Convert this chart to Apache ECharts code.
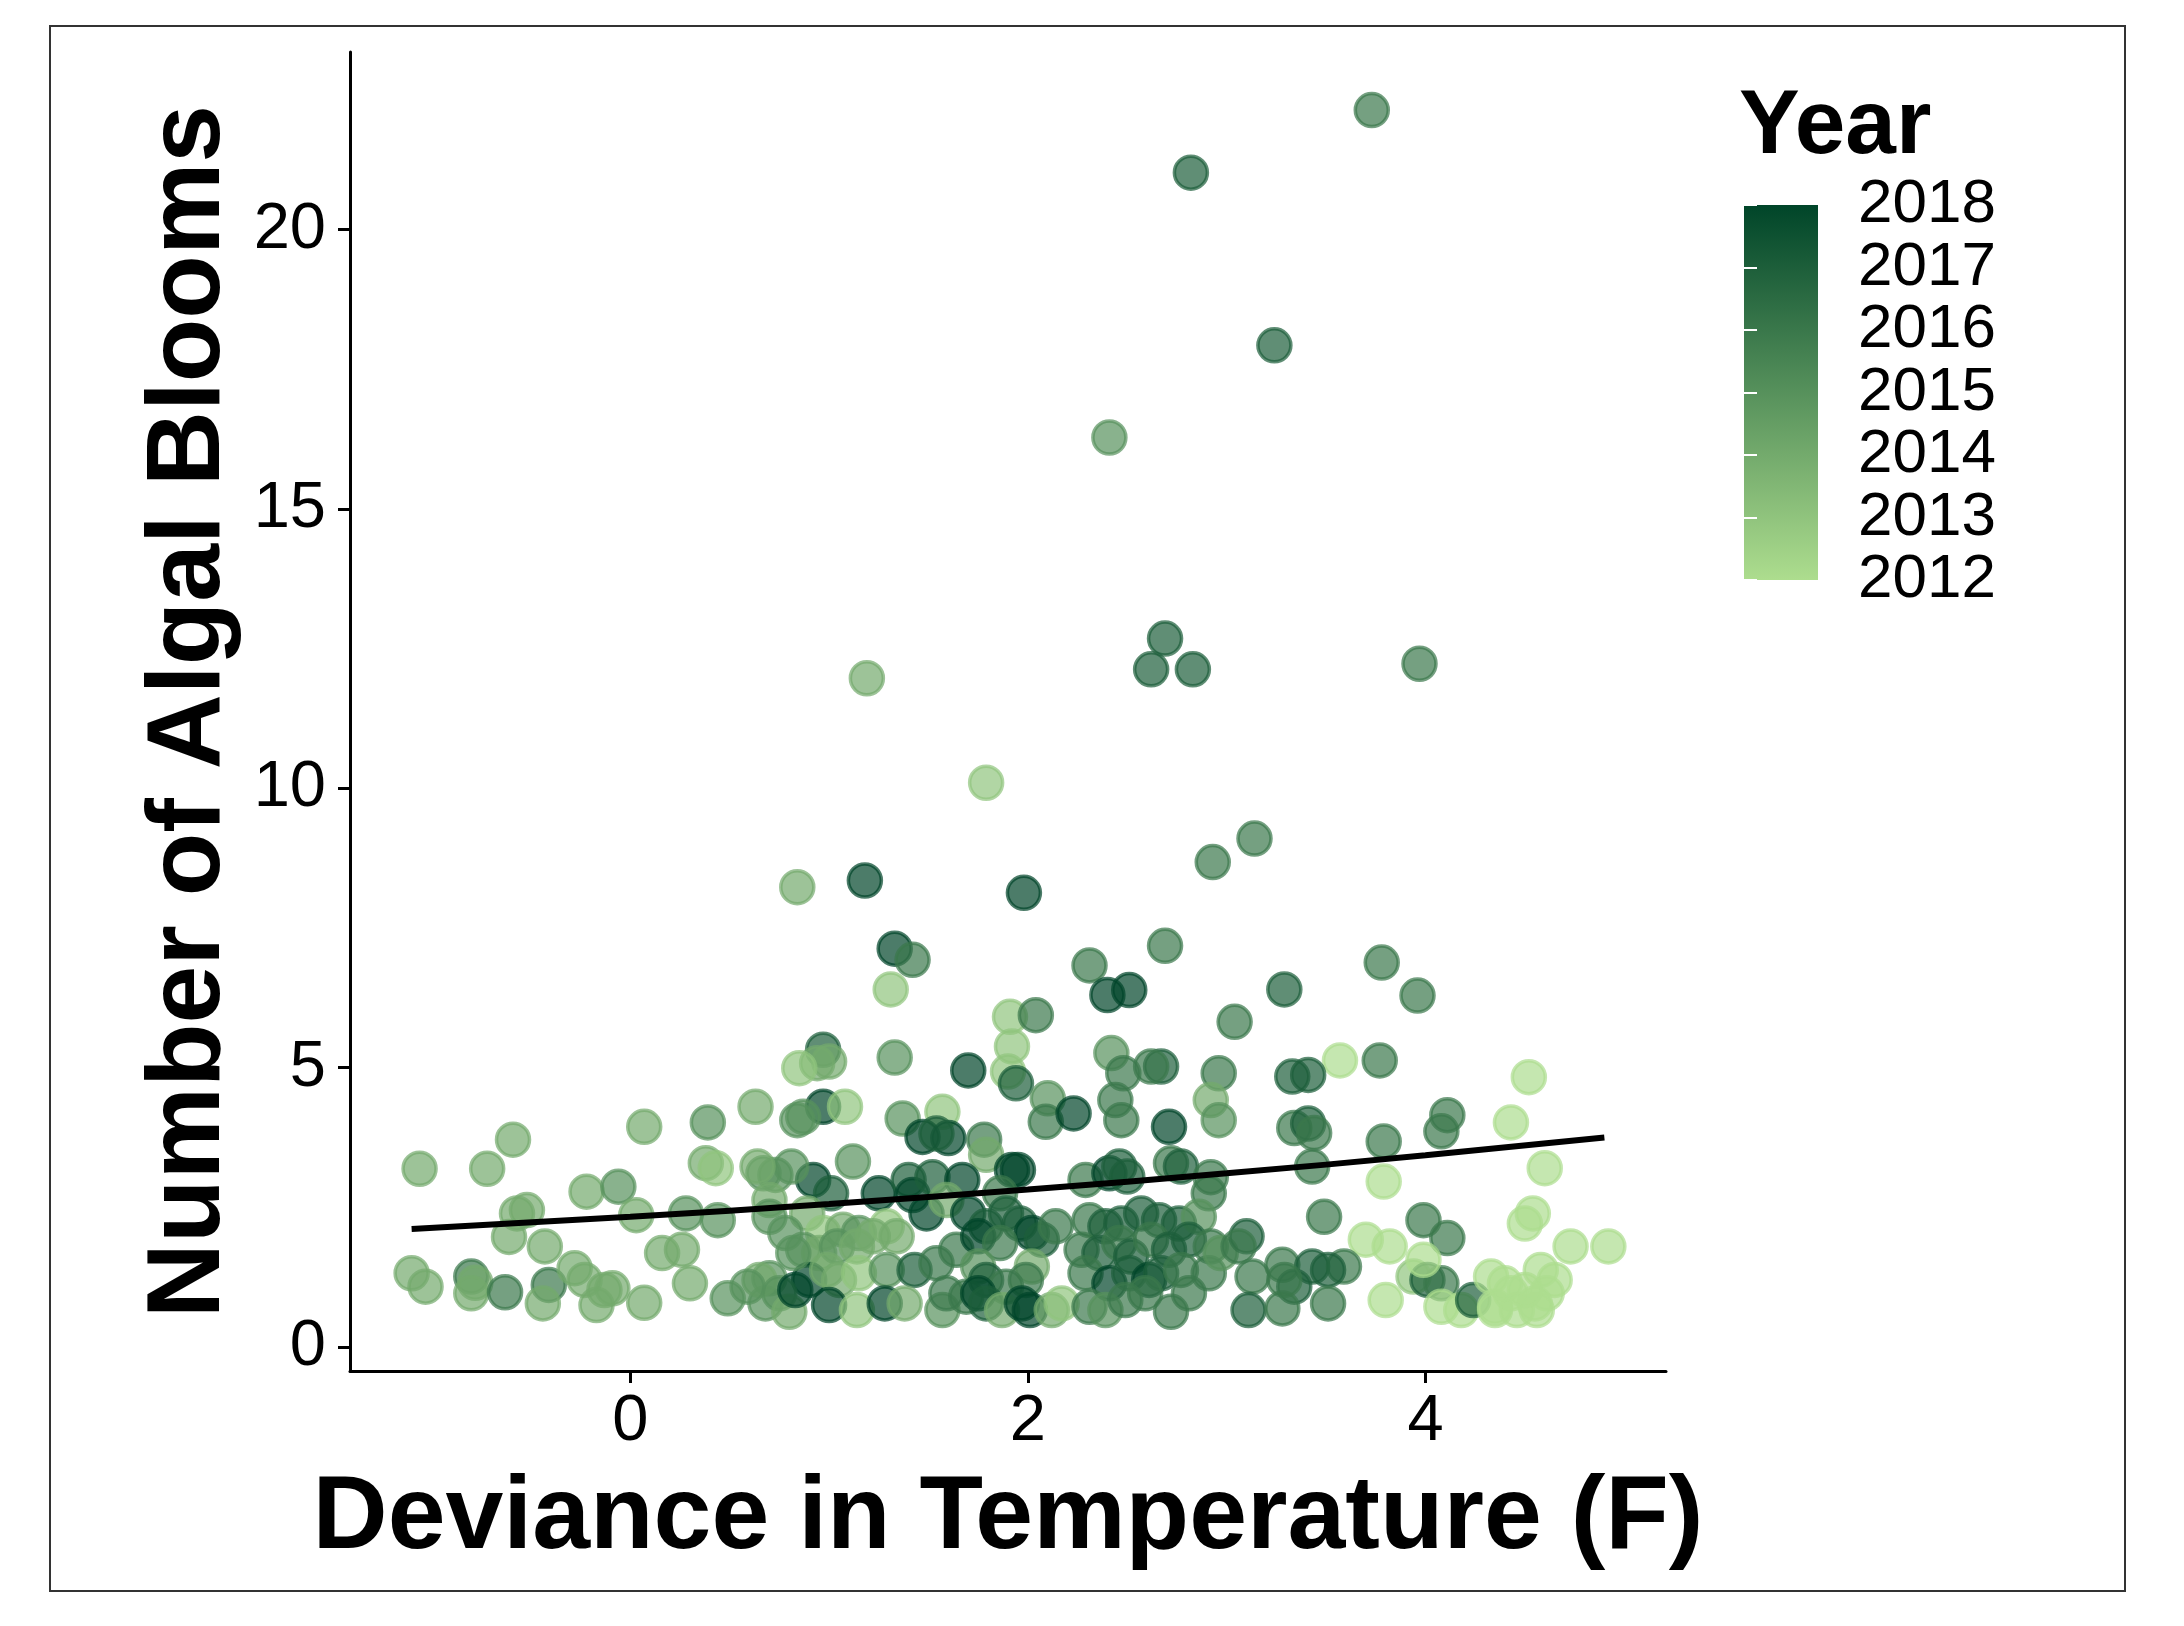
<!DOCTYPE html>
<html>
<head>
<meta charset="UTF-8">
<title>Algal blooms vs temperature deviance</title>
<script src="https://cdn.jsdelivr.net/npm/echarts@6/dist/echarts.min.js"></script>
<style>
  html, body { margin: 0; padding: 0; background: #fff; }
  #chart { width: 2184px; height: 1626px; }
</style>
</head>
<body>
<div id="chart"></div>
<script>
// points: x = deviance in temperature (F), y = number of algal blooms
var tempDev = [
  // high values
  3.73, 2.82, 3.24, 2.41, 1.19, 2.69, 2.62, 2.83, 3.97, 1.79, 0.84, 1.18, 1.98, 3.14, 2.93, 1.33, 1.42, 2.69, 2.31, 3.78, 3.29, 3.96,
  // middle band, x 0.8 - 3.0
  1.31, 2.40, 2.51, 1.91, 2.04, 1.92, 1.90, 1.94, 1.70, 1.33, 0.97, 0.94, 1.00, 0.97, 1.08, 0.87, 2.10, 2.09, 2.23, 2.42,
  2.67, 2.62, 2.48, 2.44, 2.47, 2.71, 2.96, 2.92, 2.96, 3.04, 1.37, 1.57, 1.47, 1.60, 1.54, 1.78, 1.79, 1.92, 1.95, 1.12,
  0.92, 1.01, 1.25, 1.40, 1.42, 1.52, 1.67, 1.49, 1.59, 1.86, 2.29, 2.41, 2.46, 2.50, 2.72, 2.77, 2.92, 2.91,
  // lower band, x 0.8 - 3.0
  0.89, 0.97, 1.07, 1.15, 1.29, 1.34, 1.22, 0.87, 0.95, 1.04, 1.14, 0.90, 0.99, 1.05, 1.15, 1.29, 1.43, 1.54, 1.00, 1.14,
  1.28, 1.38, 1.57, 1.59, 1.70, 1.79, 1.89, 1.96, 2.02, 2.07, 2.14, 1.64, 1.75, 1.86, 1.75, 2.02, 1.79, 1.89, 1.99, 1.69,
  1.75, 1.79, 1.87, 1.97, 2.01, 2.12, 2.17, 2.31, 2.39, 2.47, 2.57, 2.66, 2.76, 2.86, 2.27, 2.36, 2.46, 2.52, 2.62, 2.71,
  2.81, 2.92, 2.29, 2.41, 2.51, 2.61, 2.67, 2.77, 2.91, 2.97, 2.31, 2.39, 2.49, 2.59, 2.72, 2.81,
  // left part, x < 0.85
  -1.06, -0.72, -0.59, 0.07, 0.39, 0.63, 0.84, 0.85, 0.38, 0.43, -0.22, -0.06, 0.03, -0.57, -0.52, -0.61, -0.43, 0.28, 0.44, 0.16,
  0.26, 0.30, 0.07, -1.10, -1.03, -0.80, -0.78, -0.80, -0.63, -0.41, -0.44, -0.28, -0.23, -0.13, -0.09, -0.17, 0.49, 0.70, 0.68, 0.67,
  0.73, 0.81, 0.64, 0.70, 0.70, 0.78, 0.65, 0.75, 0.80, 0.83, 0.82, 0.59,
  // right part, x > 3.0
  3.57, 3.77, 3.33, 3.41, 4.52, 4.11, 4.08, 4.43, 3.34, 3.41, 3.44, 3.79, 3.43, 4.60, 3.79, 3.49, 3.99, 4.11, 3.70, 3.82,
  4.50, 4.54, 4.73, 4.92, 3.10, 3.06, 3.28, 3.43, 3.59, 3.51, 3.13, 3.34, 3.29, 3.11, 3.28, 3.51, 3.80, 3.94, 4.01, 4.08,
  3.99, 4.08, 4.18, 4.24, 4.33, 4.35, 4.35, 4.43, 4.46, 4.55, 4.58, 4.61, 4.56, 4.65, 4.50, 4.40
];
var blooms = [
  22.14, 21.02, 17.93, 16.28, 11.97, 12.68, 12.13, 12.13, 12.23, 10.10, 8.23, 8.35, 8.13, 9.10, 8.68, 7.13, 6.93, 7.18, 6.83, 6.88, 6.40, 6.29,
  6.40, 6.30, 6.39, 5.91, 5.94, 5.38, 4.93, 4.72, 4.95, 5.18, 5.32, 5.08, 5.11, 4.30, 4.30, 4.12, 4.45, 4.03, 4.18, 5.26,
  5.02, 5.02, 4.90, 4.42, 4.06, 3.94, 4.90, 4.42, 4.06, 5.82, 4.09, 4.21, 3.76, 3.74, 3.82, 3.71, 3.44, 3.17, 3.17, 3.32,
  2.99, 2.75, 2.75, 2.99, 2.72, 3.04, 2.99, 2.39, 2.63, 2.75, 2.99, 3.11, 3.23, 3.05, 3.29, 3.23, 3.04, 2.75,
  2.39, 2.04, 2.10, 2.04, 2.16, 1.98, 1.98, 1.74, 1.68, 1.80, 1.80, 1.20, 1.38, 1.20, 1.32, 1.38, 1.38, 1.50, 0.75, 0.66,
  0.78, 0.78, 0.66, 0.96, 2.39, 2.16, 2.39, 2.21, 2.04, 1.92, 2.16, 1.74, 1.98, 1.86, 1.44, 1.44, 1.20, 1.08, 1.20, 0.90,
  0.96, 0.78, 0.66, 0.78, 0.66, 0.66, 0.78, 2.27, 2.16, 2.21, 2.39, 2.27, 2.21, 2.33, 1.74, 1.68, 1.86, 1.62, 1.92, 1.74,
  1.92, 1.80, 1.32, 1.14, 1.32, 1.20, 1.32, 1.38, 1.32, 1.68, 0.72, 0.66, 0.84, 0.96, 0.63, 0.96,
  3.19, 3.19, 3.71, 3.94, 4.02, 4.30, 4.06, 4.99, 3.29, 3.20, 2.78, 2.87, 2.36, 2.39, 2.45, 1.97, 1.80, 2.39, 2.27, 1.68,
  1.74, 1.14, 0.79, 1.32, 1.08, 1.26, 1.15, 0.96, 0.98, 1.11, 0.78, 1.41, 1.20, 1.02, 1.05, 0.75, 0.87, 1.23, 0.78, 3.11,
  3.08, 3.23, 3.23, 2.63, 2.33, 2.04, 1.20, 0.96, 0.63, 1.02, 1.68, 1.08,
  5.13, 5.13, 4.84, 4.87, 4.83, 4.15, 3.86, 4.02, 3.92, 4.00, 3.83, 3.68, 3.23, 3.20, 2.96, 2.33, 2.27, 1.95, 1.92, 1.80,
  2.21, 2.39, 1.80, 1.80, 1.98, 1.80, 1.47, 1.44, 1.44, 1.38, 1.26, 1.08, 1.20, 0.66, 0.69, 0.78, 0.84, 1.26, 1.20, 1.14,
  1.56, 0.72, 0.66, 0.84, 1.26, 0.72, 0.66, 0.96, 0.66, 0.78, 1.38, 0.96, 0.66, 1.20, 1.02, 1.14
];
var year = [
  2016, 2017, 2017, 2015, 2014, 2017, 2017, 2017, 2016, 2013, 2014, 2018, 2018, 2016, 2016, 2018, 2016, 2016, 2016, 2016, 2017, 2016,
  2013, 2018, 2018, 2013, 2016, 2013, 2013, 2017, 2018, 2015, 2017, 2014, 2014, 2018, 2013, 2015, 2015, 2016, 2018, 2015,
  2017, 2016, 2016, 2016, 2016, 2018, 2016, 2014, 2015, 2016, 2015, 2013, 2018, 2018, 2017, 2016, 2014, 2018, 2018, 2015,
  2018, 2017, 2018, 2017, 2018, 2017, 2018, 2018, 2014, 2016, 2016, 2018, 2017, 2017, 2016, 2017, 2016, 2016,
  2014, 2013, 2014, 2015, 2013, 2014, 2014, 2015, 2014, 2015, 2014, 2018, 2014, 2014, 2013, 2015, 2017, 2016, 2018, 2013,
  2018, 2014, 2015, 2016, 2018, 2017, 2017, 2017, 2018, 2017, 2016, 2016, 2018, 2016, 2015, 2014, 2017, 2016, 2016, 2016,
  2018, 2017, 2014, 2018, 2018, 2014, 2013, 2016, 2017, 2017, 2017, 2017, 2017, 2015, 2016, 2017, 2016, 2017, 2016, 2017,
  2017, 2016, 2016, 2018, 2017, 2018, 2017, 2016, 2016, 2015, 2016, 2015, 2016, 2016, 2016, 2016,
  2014, 2014, 2014, 2014, 2015, 2014, 2015, 2013, 2014, 2013, 2014, 2015, 2014, 2014, 2014, 2014, 2014, 2015, 2015, 2014,
  2014, 2014, 2014, 2014, 2014, 2016, 2014, 2014, 2016, 2016, 2014, 2014, 2014, 2014, 2014, 2014, 2015, 2015, 2015, 2015,
  2015, 2015, 2014, 2014, 2015, 2015, 2014, 2015, 2014, 2018, 2015, 2015,
  2012, 2016, 2017, 2017, 2012, 2016, 2016, 2012, 2016, 2017, 2016, 2016, 2016, 2012, 2012, 2016, 2016, 2016, 2012, 2012,
  2012, 2012, 2012, 2012, 2017, 2016, 2016, 2017, 2016, 2017, 2016, 2017, 2016, 2017, 2016, 2016, 2012, 2013, 2017, 2016,
  2012, 2012, 2012, 2017, 2012, 2012, 2012, 2012, 2012, 2012, 2012, 2012, 2012, 2012, 2012, 2012
];

// fitted trend line
var fitX = [-1.1, 0, 1, 2, 3, 4, 4.9];
var fitY = [2.11, 2.33, 2.56, 2.82, 3.11, 3.43, 3.75];

var xTicks = [0, 2, 4];
var yTicks = [0, 5, 10, 15, 20];
var yearTicks = [2012, 2013, 2014, 2015, 2016, 2017, 2018];

var lowColor = '#addd8e';
var highColor = '#004529';
var font = 'Liberation Sans';

var chart = echarts.init(document.getElementById('chart'));

var points = [];
for (var i = 0; i < tempDev.length; i++) {
  var c = echarts.color.lerp((year[i] - 2012) / 6, [lowColor, highColor]);
  points.push({
    value: [tempDev[i], blooms[i], year[i]],
    itemStyle: { color: c, borderColor: c }
  });
}
var fitLine = fitX.map(function (x, i) { return [x, fitY[i]]; });

var option = {
  animation: false,
  backgroundColor: '#fff',
  grid: [
    { left: 350, top: 52, width: 1316, height: 1319 },
    { left: 1744, top: 205, width: 74, height: 375 }
  ],
  xAxis: [
    {
      type: 'value',
      gridIndex: 0,
      min: -1.41,
      max: 5.21,
      name: 'Deviance in Temperature (F)',
      nameLocation: 'middle',
      nameGap: 96,
      nameTextStyle: { fontFamily: font, fontSize: 104, fontWeight: 'bold', color: '#000' },
      axisLine: { onZero: false, lineStyle: { color: '#000', width: 3 } },
      axisTick: { length: 12, lineStyle: { color: '#000', width: 3 }, customValues: xTicks },
      axisLabel: { fontFamily: font, fontSize: 65, color: '#000', margin: 19, customValues: xTicks },
      splitLine: { show: false }
    },
    { type: 'value', gridIndex: 1, min: 0, max: 1, show: false }
  ],
  yAxis: [
    {
      type: 'value',
      gridIndex: 0,
      min: -0.43,
      max: 23.18,
      name: 'Number of Algal Blooms',
      nameLocation: 'middle',
      nameGap: 96,
      nameTextStyle: { fontFamily: font, fontSize: 104, fontWeight: 'bold', color: '#000' },
      axisLine: { show: true, onZero: false, lineStyle: { color: '#000', width: 3 } },
      axisTick: { show: true, length: 12, lineStyle: { color: '#000', width: 3 }, customValues: yTicks },
      axisLabel: { fontFamily: font, fontSize: 65, color: '#000', margin: 24, customValues: yTicks },
      splitLine: { show: false }
    },
    {
      // colour bar, right side: year labels
      type: 'value',
      gridIndex: 1,
      position: 'right',
      min: yearTicks[0],
      max: yearTicks[yearTicks.length - 1],
      interval: 1,
      z: 10,
      axisLine: { show: false },
      axisTick: { show: true, inside: true, length: 13, lineStyle: { color: '#fff', width: 2 } },
      axisLabel: {
        fontFamily: font, fontSize: 62, color: '#000', margin: 40,
        formatter: function (v) { return String(v); }
      },
      splitLine: { show: false }
    },
    {
      // colour bar, left side ticks
      type: 'value',
      gridIndex: 1,
      position: 'left',
      min: yearTicks[0],
      max: yearTicks[yearTicks.length - 1],
      interval: 1,
      z: 10,
      axisLine: { show: false },
      axisTick: { show: true, inside: true, length: 13, lineStyle: { color: '#fff', width: 2 } },
      axisLabel: { show: false },
      splitLine: { show: false }
    }
  ],
  graphic: [
    {
      type: 'rect',
      z: -1,
      shape: { x: 50, y: 26, width: 2075, height: 1565 },
      style: { fill: 'none', stroke: '#333', lineWidth: 2 }
    },
    {
      type: 'rect',
      z: 1,
      shape: { x: 1744, y: 205, width: 74, height: 375 },
      style: {
        fill: new echarts.graphic.LinearGradient(0, 0, 0, 1, [
          { offset: 0, color: highColor },
          { offset: 1, color: lowColor }
        ])
      }
    },
    {
      type: 'text',
      x: 1739,
      y: 82,
      style: { text: 'Year', font: 'bold 91px "Liberation Sans"', fill: '#000', verticalAlign: 'top' }
    }
  ],
  series: [
    {
      type: 'scatter',
      xAxisIndex: 0,
      yAxisIndex: 0,
      symbolSize: 33,
      itemStyle: { opacity: 0.7, borderWidth: 3.5 },
      data: points,
      z: 2
    },
    {
      type: 'line',
      xAxisIndex: 0,
      yAxisIndex: 0,
      data: fitLine,
      smooth: true,
      symbol: 'none',
      lineStyle: { color: '#000', width: 6 },
      z: 3
    }
  ]
};

chart.setOption(option);
</script>
</body>
</html>
